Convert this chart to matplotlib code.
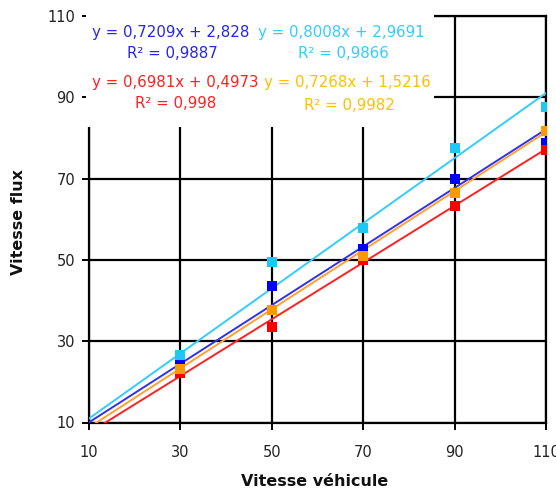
import matplotlib
matplotlib.use("Agg")
import matplotlib.pyplot as plt
from matplotlib.patches import Rectangle
import numpy as np

# Vehicle speed (x) and measured flux speed (y) for four series
vitesse_vehicule = [30, 50, 70, 90, 110]
serie_bleue = [25.0, 43.7, 52.6, 69.8, 78.7]
serie_cyan = [26.6, 49.6, 57.8, 77.5, 87.7]
serie_rouge = [22.1, 33.6, 50.0, 63.3, 77.0]
serie_orange = [23.1, 37.7, 51.0, 66.5, 81.8]

# Linear trendlines (slope, intercept, R²)
tendance_bleue = (0.7209, 2.828, 0.9887)
tendance_cyan = (0.8008, 2.9691, 0.9866)
tendance_rouge = (0.6981, 0.4973, 0.998)
tendance_orange = (0.7268, 1.5216, 0.9982)

ticks = [10, 30, 50, 70, 90, 110]

W, H = 556, 491
fig = plt.figure(figsize=(W / 100, H / 100), dpi=100)
fig.patch.set_facecolor("white")

x0, x1, y0, y1 = 89, 546, 16, 422.5
ax = fig.add_axes([x0 / W, 1 - y1 / H, (x1 - x0) / W, (y1 - y0) / H])
ax.set_xlim(10, 110)
ax.set_ylim(10, 110)
ax.set_xticks(ticks)
ax.set_yticks(ticks)
ax.grid(True, color="black", linewidth=1.6, zorder=1)
ax.set_axisbelow(True)
for side in ("left", "bottom", "top", "right"):
    ax.spines[side].set_linewidth(1.6)
    ax.spines[side].set_color("black")
ax.tick_params(axis="both", direction="out", length=5, width=1.4,
               color="black", labelsize=10.5, labelcolor="#222222")
ax.tick_params(axis="x", pad=11)
ax.tick_params(axis="y", pad=5)

fam = ["DejaVu Sans"]
for lab in ax.get_xticklabels() + ax.get_yticklabels():
    lab.set_family(fam)

# White area behind the trendline equations
ax.add_patch(Rectangle((-0.006, 0.727), 0.762, 0.30, transform=ax.transAxes,
                       facecolor="white", edgecolor="none", zorder=3,
                       clip_on=False))

series = [
    (serie_bleue, tendance_bleue, "#0000FF", "#3030F0", "#2626E6"),
    (serie_cyan, tendance_cyan, "#1EC8F5", "#33CCFF", "#33CCFF"),
    (serie_rouge, tendance_rouge, "#FF0000", "#FF2020", "#FF2020"),
    (serie_orange, tendance_orange, "#FF9900", "#FFA030", "#FFC000"),
]

xs = np.array([0.0, 110.0])
for vals, (m, b, r2), mcol, lcol, tcol in series:
    ax.plot(xs, m * xs + b, color=lcol, linewidth=1.4, zorder=4)
for vals, (m, b, r2), mcol, lcol, tcol in series:
    ax.plot(vitesse_vehicule, vals, linestyle="none", marker="s",
            markersize=6.5, color=mcol, markeredgewidth=0, zorder=5)


def fmt(v):
    return ("%g" % v).replace(".", ",")


label_pos = [((171, 33), (172, 53)),
             ((341, 32), (343, 53)),
             ((175, 82), (176, 103)),
             ((347, 82), (349, 105))]
for (vals, (m, b, r2), mcol, lcol, tcol), (pe, pr) in zip(series, label_pos):
    fig.text(pe[0] / W, 1 - pe[1] / H, "y = %sx + %s" % (fmt(m), fmt(b)),
             ha="center", va="center", color=tcol, fontsize=10.8,
             family=fam, zorder=6)
    fig.text(pr[0] / W, 1 - pr[1] / H, "R² = %s" % fmt(r2),
             ha="center", va="center", color=tcol, fontsize=10.8,
             family=fam, zorder=6)

fig.text(315 / W, 1 - 482 / H, "Vitesse véhicule", ha="center", va="center",
         fontsize=11.5, fontweight="bold", family=fam, color="#111111")
fig.text(19 / W, 1 - 222 / H, "Vitesse flux", ha="center", va="center",
         rotation=90, fontsize=11.5, fontweight="bold", family=fam,
         color="#111111")

fig.savefig("out.png", dpi=100, facecolor="white")
